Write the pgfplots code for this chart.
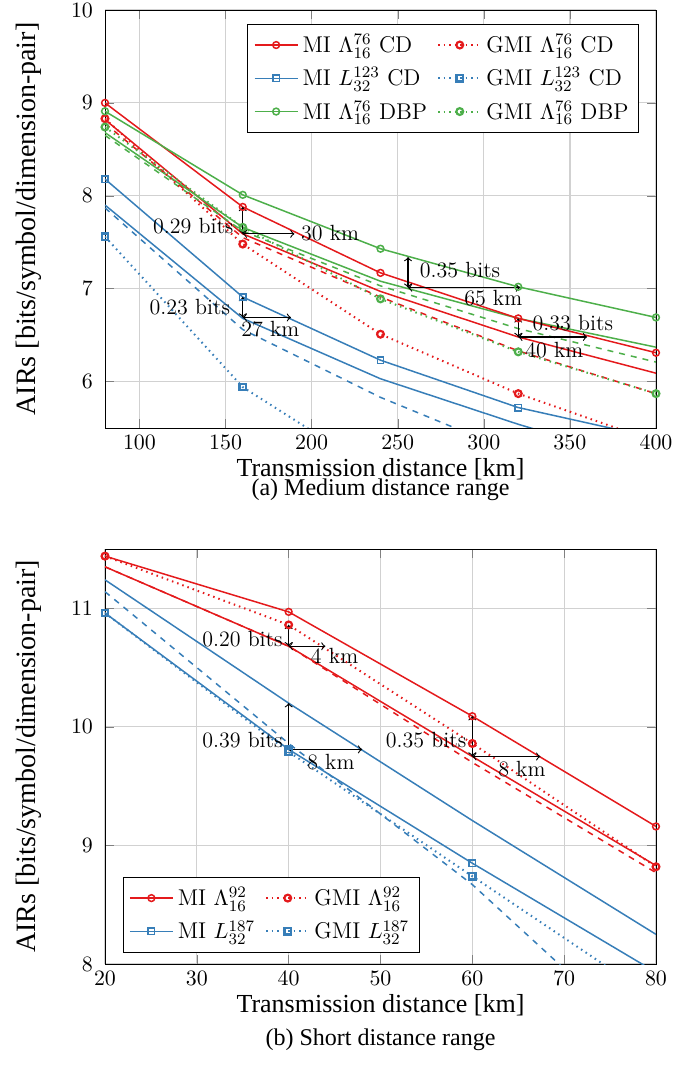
\documentclass[border=0pt]{standalone}
\usepackage{fontspec}
\usepackage{pgfplots}
\pgfplotsset{compat=1.18}
\newfontfamily\tnr{Liberation Serif}
\definecolor{cred}{RGB}{228,26,28}
\definecolor{cblue}{RGB}{55,126,184}
\definecolor{cgreen}{RGB}{77,175,74}
\tikzset{ann/.style={black, line width=0.55pt, <->},
  lab/.style={inner sep=1pt, font=\fontsize{11}{13}\selectfont}}
\pgfplotsset{
  common/.style={
    scale only axis, width=275.5pt,
    grid=major, grid style={black!18, line width=0.6pt},
    tick label style={font=\fontsize{11}{13}\selectfont},
    yticklabel style={xshift=-2.5pt},
    xlabel style={font=\tnr\fontsize{13}{15}\selectfont, yshift=2pt},
    ylabel style={font=\tnr\fontsize{14}{16}\selectfont},
    ylabel shift=8pt,
    ylabel={AIRs [bits/symbol/dimension-pair]},
    xlabel={Transmission distance [km]},
    every axis plot/.append style={line width=0.75pt},
    legend columns=2,
    legend cell align=left,
    legend image code/.code={\draw[mark repeat=2, mark phase=2] plot coordinates {(0cm,0cm) (0.38cm,0cm) (0.76cm,0cm)};},
    legend style={font=\fontsize{11.4}{13.5}\selectfont, inner xsep=3pt, inner ysep=3pt, row sep=2pt, /tikz/every even column/.append style={column sep=3pt}},
  },
  mi/.style={solid, mark=o, mark size=1.7pt},
  gmi/.style={dotted, line width=1pt, mark=o, mark size=1.7pt, mark options={solid, line width=1.1pt}},
  misq/.style={solid, mark=square, mark size=1.6pt},
  gmisq/.style={dotted, line width=1pt, mark=square, mark size=1.6pt, mark options={solid, line width=1.1pt}},
}
\begin{document}
\begin{tikzpicture}
\useasboundingbox (-52.5pt,5pt) rectangle (296pt,-531pt);
% ---------------- top ----------------
\begin{axis}[common,
  at={(0,0)}, anchor=north west, height=209pt,
  xmin=80, xmax=400, ymin=5.5, ymax=10,
  xtick={100,150,...,400}, ytick={6,7,8,9,10},
  legend style={at={(0.969,0.9665)}, anchor=north east},
]
% reference (unmarked) curves
\addplot[cred, solid, forget plot] coordinates {(80,8.82) (160,7.59) (240,6.97) (320,6.48) (400,6.09)};
\addplot[cred, dashed, forget plot] coordinates {(80,8.78) (160,7.55) (240,6.91) (320,6.33) (400,5.87)};
\addplot[cgreen, solid, forget plot] coordinates {(80,8.68) (160,7.66) (240,7.08) (320,6.68) (400,6.37)};
\addplot[cgreen, dashed, forget plot] coordinates {(80,8.65) (160,7.62) (240,7.03) (320,6.57) (400,6.21)};
\addplot[cblue, solid, forget plot] coordinates {(80,7.90) (160,6.68) (240,6.03) (320,5.54) (400,5.10)};
\addplot[cblue, dashed, forget plot] coordinates {(80,7.87) (160,6.56) (240,5.83) (320,5.22) (400,4.70)};
% legend curves
\addplot[cred, mi] coordinates {(80,9.00) (160,7.88) (240,7.17) (320,6.68) (400,6.31)};
\addlegendentry{MI $\Lambda_{16}^{76}$ CD}
\addplot[cred, gmi] coordinates {(80,8.83) (160,7.48) (240,6.51) (320,5.87) (400,5.35)};
\addlegendentry{GMI $\Lambda_{16}^{76}$ CD}
\addplot[cblue, misq] coordinates {(80,8.18) (160,6.91) (240,6.23) (320,5.72) (400,5.39)};
\addlegendentry{MI $L_{32}^{123}$ CD}
\addplot[cblue, gmisq] coordinates {(80,7.56) (160,5.94) (240,5.00) (320,4.30) (400,3.70)};
\addlegendentry{GMI $L_{32}^{123}$ CD}
\addplot[cgreen, mi] coordinates {(80,8.91) (160,8.01) (240,7.43) (320,7.02) (400,6.69)};
\addlegendentry{MI $\Lambda_{16}^{76}$ DBP}
\addplot[cgreen, gmi] coordinates {(80,8.74) (160,7.66) (240,6.89) (320,6.32) (400,5.87)};
\addlegendentry{GMI $\Lambda_{16}^{76}$ DBP}
% annotations
\draw[ann] (axis cs:160,7.88) -- (axis cs:160,7.59);
\draw[ann] (axis cs:160,7.59) -- (axis cs:190,7.59);
\node[lab, anchor=east] at (axis cs:156,7.67) {0.29 bits};
\node[lab, anchor=west] at (axis cs:192.5,7.60) {30 km};
\draw[ann] (axis cs:160,6.91) -- (axis cs:160,6.69);
\draw[ann] (axis cs:160,6.69) -- (axis cs:188,6.69);
\node[lab, anchor=east] at (axis cs:154,6.80) {0.23 bits};
\node[lab] at (axis cs:176,6.56) {27 km};
\draw[ann] (axis cs:256,7.34) -- (axis cs:256,7.01);
\draw[ann] (axis cs:256,7.01) -- (axis cs:321,7.01);
\node[lab, anchor=west] at (axis cs:261.5,7.20) {0.35 bits};
\node[lab] at (axis cs:305.5,6.90) {65 km};
\draw[ann] (axis cs:320,6.68) -- (axis cs:320,6.48);
\draw[ann] (axis cs:320,6.48) -- (axis cs:360,6.48);
\node[lab, anchor=west] at (axis cs:327,6.63) {0.33 bits};
\node[lab] at (axis cs:341,6.34) {40 km};
\end{axis}
\node[font=\tnr\fontsize{12}{14}\selectfont] at (137.75pt,-240pt) {(a) Medium distance range};
% ---------------- bottom ----------------
\begin{axis}[common,
  at={(0,-269.5pt)}, anchor=north west, height=207.5pt,
  xmin=20, xmax=80, ymin=8, ymax=11.5,
  xtick={20,30,...,80}, ytick={8,9,10,11},
  legend style={at={(0.032,0.028)}, anchor=south west},
]
\addplot[cred, solid, forget plot] coordinates {(20,11.35) (40,10.68) (60,9.75) (80,8.83)};
\addplot[cred, dashed, forget plot] coordinates {(20,11.35) (40,10.68) (60,9.70) (80,8.77)};
\addplot[cblue, solid, forget plot] coordinates {(20,11.24) (40,10.20) (60,9.21) (80,8.25)};
\addplot[cblue, dashed, forget plot] coordinates {(20,11.14) (40,9.86) (60,8.67) (80,7.25)};
\addplot[cred, mi] coordinates {(20,11.44) (40,10.97) (60,10.09) (80,9.16)};
\addlegendentry{MI $\Lambda_{16}^{92}$}
\addplot[cred, gmi] coordinates {(20,11.44) (40,10.86) (60,9.86) (80,8.82)};
\addlegendentry{GMI $\Lambda_{16}^{92}$}
\addplot[cblue, misq] coordinates {(20,10.96) (40,9.81) (60,8.85) (80,7.93)};
\addlegendentry{MI $L_{32}^{187}$}
\addplot[cblue, gmisq] coordinates {(20,10.96) (40,9.79) (60,8.74) (80,7.70)};
\addlegendentry{GMI $L_{32}^{187}$}
\draw[ann] (axis cs:40,10.86) -- (axis cs:40,10.68);
\draw[ann] (axis cs:40,10.68) -- (axis cs:44,10.68);
\node[lab, anchor=east] at (axis cs:39.6,10.74) {0.20 bits};
\node[lab] at (axis cs:45,10.60) {4 km};
\draw[ann] (axis cs:40,9.81) -- (axis cs:40,10.20);
\draw[ann] (axis cs:40,9.81) -- (axis cs:48,9.81);
\node[lab, anchor=east] at (axis cs:39.6,9.89) {0.39 bits};
\node[lab] at (axis cs:44.6,9.70) {8 km};
\draw[ann] (axis cs:60,10.09) -- (axis cs:60,9.75);
\draw[ann] (axis cs:60,9.75) -- (axis cs:67.4,9.75);
\node[lab, anchor=east] at (axis cs:59.6,9.89) {0.35 bits};
\node[lab] at (axis cs:65.4,9.64) {8 km};
\end{axis}
\node[font=\tnr\fontsize{12}{14}\selectfont] at (137.75pt,-515pt) {(b) Short distance range};
\end{tikzpicture}
\end{document}
